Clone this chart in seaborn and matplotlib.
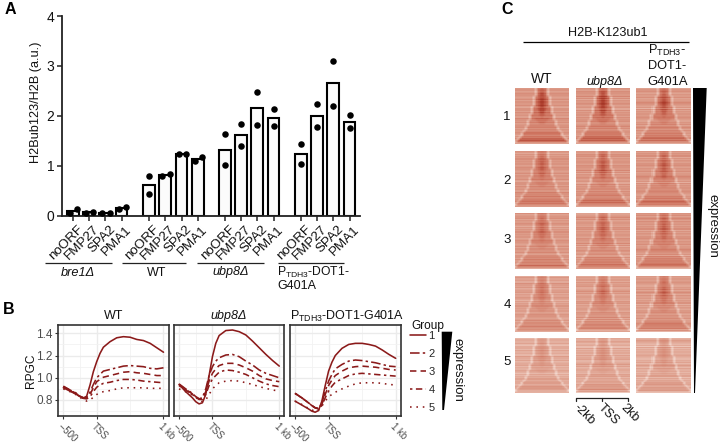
import numpy as np
import pandas as pd
import matplotlib
matplotlib.use("Agg")
import matplotlib.pyplot as plt
from matplotlib.lines import Line2D
from matplotlib.patches import Polygon
from matplotlib.transforms import ScaledTranslation
import seaborn as sns

sns.set_theme(style="white")
plt.rcParams["font.family"] = ["Liberation Sans", "DejaVu Sans"]
plt.rcParams["mathtext.fontset"] = "custom"
plt.rcParams["mathtext.rm"] = "Liberation Sans"
plt.rcParams["mathtext.default"] = "regular"

# ---------- panel A data ----------
strains = ["bre1", "WT", "ubp8", "PTDH3"]
genes = ["noORF", "FMP27", "SPA2", "PMA1"]
rep_low = [0.05, 0.06, 0.05, 0.13,
           0.44, 0.79, 1.23, 1.10,
           1.01, 1.40, 1.82, 1.79,
           1.03, 1.77, 2.20, 1.75]
rep_high = [0.13, 0.07, 0.06, 0.17,
            0.80, 0.83, 1.24, 1.17,
            1.63, 1.83, 2.48, 2.13,
            1.43, 2.23, 3.10, 2.01]

# ---------- panel B data ----------
tss_x = [-500, -400, -300, -250, -200, -150, -100, -50, 0, 50, 100, 200, 300, 400, 500, 600, 700, 800, 900, 1000]
wt_1 = [.91, .88, .85, .83, .815, .835, .935, 1.055, 1.145, 1.22, 1.275, 1.325, 1.36, 1.37, 1.365, 1.345, 1.335, 1.31, 1.27, 1.23]
wt_2 = [.925, .89, .86, .835, .82, .825, .87, .94, 1.0, 1.03, 1.06, 1.075, 1.09, 1.105, 1.11, 1.105, 1.10, 1.085, 1.08, 1.09]
wt_3 = [.92, .89, .855, .835, .82, .82, .85, .91, .965, .985, 1.005, 1.02, 1.035, 1.05, 1.055, 1.045, 1.04, 1.03, 1.02, 1.02]
wt_4 = [.915, .885, .85, .83, .815, .81, .83, .875, .915, .935, .95, .96, .975, .985, .985, .98, .97, .965, .96, .955]
wt_5 = [.90, .875, .845, .825, .80, .79, .80, .825, .85, .865, .875, .885, .90, .91, .91, .91, .91, .905, .905, .905]
ubp_1 = [.94, .875, .82, .785, .765, .775, .85, 1.02, 1.19, 1.31, 1.38, 1.425, 1.43, 1.415, 1.385, 1.33, 1.27, 1.21, 1.155, 1.105]
ubp_2 = [.945, .90, .86, .83, .81, .82, .90, 1.02, 1.10, 1.15, 1.18, 1.205, 1.21, 1.19, 1.15, 1.115, 1.07, 1.04, 1.02, 1.0]
ubp_3 = [.94, .895, .855, .83, .81, .815, .875, .97, 1.04, 1.08, 1.11, 1.13, 1.13, 1.115, 1.09, 1.06, 1.02, .99, .975, .965]
ubp_4 = [.93, .89, .85, .825, .805, .805, .85, .93, .99, 1.02, 1.05, 1.07, 1.065, 1.05, 1.03, 1.0, .97, .945, .93, .92]
ubp_5 = [.90, .875, .845, .825, .80, .785, .80, .85, .90, .93, .955, .97, .975, .97, .955, .94, .92, .905, .89, .88]
dot_1 = [.79, .755, .72, .70, .69, .705, .79, .93, 1.06, 1.14, 1.20, 1.265, 1.30, 1.31, 1.31, 1.30, 1.285, 1.25, 1.21, 1.175]
dot_2 = [.86, .82, .775, .75, .73, .72, .77, .88, .97, 1.03, 1.08, 1.12, 1.15, 1.16, 1.155, 1.145, 1.135, 1.12, 1.105, 1.10]
dot_3 = [.86, .82, .775, .75, .73, .725, .76, .85, .93, .98, 1.02, 1.06, 1.09, 1.10, 1.105, 1.10, 1.095, 1.085, 1.075, 1.07]
dot_4 = [.86, .82, .775, .75, .73, .72, .75, .82, .88, .925, .96, .99, 1.02, 1.035, 1.04, 1.035, 1.03, 1.025, 1.02, 1.015]
dot_5 = [.79, .76, .725, .71, .70, .71, .745, .79, .83, .85, .87, .90, .925, .945, .955, .955, .955, .95, .94, .935]
group_labels = ["1", "2", "3", "4", "5"]

# ---------- panel C data: coarse map ----------
map_rows = [
    "4444444444 1 66766 1 4444444444",
    "4444444444 1 67776 1 4444444444",
    "4444444444 1 67876 1 4444444444",
    "4444444444 1 67876 1 4444444444",
    "444444444 1 6788876 1 444444444",
    "444444444 1 6789876 1 444444444",
    "444444444 1 6789876 1 444444444",
    "444444444 1 6789876 1 444444444",
    "444444444 1 6789876 1 444444444",
    "44444444 1 667898766 1 44444444",
    "44444444 1 667888766 1 44444444",
    "44444444 1 666888666 1 44444444",
    "44444444 1 666787666 1 44444444",
    "4444444 1 66667776666 1 4444444",
    "4444444 1 66666766666 1 4444444",
    "4444444 1 55666666655 1 4444444",
    "444444 1 5555666665555 1 444444",
    "444444 1 5555566655555 1 444444",
    "444444 1 5555555555555 1 444444",
    "44444 1 555555555555555 1 44444",
    "44444 1 555555555555555 1 44444",
    "4444 1 55555555555555555 1 4444",
    "444 1 6666666666666666666 1 444",
    "444 1 6666666666666666666 1 444",
    "44 1 666666666666666666666 1 44",
    "5 1 77777777777777777777777 1 5",
    "1 7777777777777777777777777 1",
    "333333333333333333333333333",
]
streak_a = "45534655434635544632555364453375546345563544654253546645"
streak_b = "54365544736254465345226354553645563345746345544365635445"
streak_c = "35564354463445765435163545545654335463575364453546625354"
cell_level = [[.42, .42, .41], [.42, .42, .42], [.41, .41, .42], [.37, .38, .39], [.31, .32, .31]]
cell_peak = [[1.0, 1.0, .85], [.65, .7, .7], [.6, .65, .65], [.55, .6, .65], [.35, .35, .35]]
col_titles = ["WT", "ubp8Δ"]
row_titles = ["1", "2", "3", "4", "5"]

W, H = 720, 442
fig = plt.figure(figsize=(W / 100, H / 100), dpi=100, facecolor="white")


def axes_px(l, t, r, b):
    return fig.add_axes([l / W, 1 - b / H, (r - l) / W, (b - t) / H])


# ========== Panel A ==========
axA = axes_px(62, 16, 360, 215.5)
starts = [72.7, 149, 224.7, 300.7]
step = 16.3
centers = [s + j * step for s in starts for j in range(len(genes))]
dfA = pd.DataFrame({
    "pos": centers * 2,
    "val": rep_low + rep_high,
    "gene": (genes * len(strains)) * 2,
})
sns.barplot(data=dfA, x="pos", y="val", native_scale=True, errorbar=None, estimator="mean",
            width=0.72, color="#fbfbfb", saturation=1, edgecolor="black", linewidth=1.5, ax=axA, zorder=2)
close = np.abs(np.array(rep_high) - np.array(rep_low)) < 0.15
shift_low = np.where(close, -3.0, 0.0)
shift_high = np.where(close, 4.2, 0.0)
dfP = pd.DataFrame({
    "x": np.r_[np.array(centers) + shift_low, np.array(centers) + shift_high],
    "val": rep_low + rep_high,
})
sns.scatterplot(data=dfP, x="x", y="val", color="black", s=22, linewidth=0, ax=axA, zorder=3, clip_on=False, legend=False)
axA.set_xlim(62, 360)
axA.set_ylim(0, 4)
axA.set_xticks(centers)
axA.set_xticklabels(genes * len(strains), rotation=45, ha="right", va="top", rotation_mode="anchor", fontsize=9.6, color="#111111")
axA.set_yticks([0, 1, 2, 3, 4])
axA.set_yticklabels(["0", "1", "2", "3", "4"], fontsize=10, color="#111111")
axA.tick_params(axis="both", length=3.6, width=1.1, color="#222222", left=True, bottom=True, pad=2)
shift = ScaledTranslation(4 / 100, 0, fig.dpi_scale_trans)
for lab in axA.get_xticklabels():
    lab.set_transform(lab.get_transform() + shift)
axA.set_xlabel("")
axA.set_ylabel("H2Bub123/H2B (a.u.)", fontsize=9.2, color="#111111")
axA.yaxis.set_label_coords((42 - 62) / 298, 0.566)
sns.despine(ax=axA)
for s in ["left", "bottom"]:
    axA.spines[s].set_linewidth(1.3)
    axA.spines[s].set_color("#222222")

# ========== Panel B ==========
facets = [("WT", [wt_1, wt_2, wt_3, wt_4, wt_5], (58.3, 168.5)),
          ("ubp8", [ubp_1, ubp_2, ubp_3, ubp_4, ubp_5], (174, 284.3)),
          ("dot", [dot_1, dot_2, dot_3, dot_4, dot_5], (290, 400.7))]
line_col = "#8b1a1a"
dash_map = {"1": "", "2": (6, 2, 1.5, 2), "3": (4, 2.6), "4": (1.5, 2.2, 4, 2.2), "5": (1, 3)}
for k, (name, series, (l, r)) in enumerate(facets):
    ax = axes_px(l, 325, r, 416)
    dfB = pd.DataFrame({
        "x": tss_x * 5,
        "y": np.concatenate(series),
        "Group": np.repeat(group_labels, len(tss_x)),
    })
    sns.lineplot(data=dfB, x="x", y="y", style="Group", dashes=dash_map, color=line_col,
                 linewidth=1.15, errorbar=None, legend=False, ax=ax, zorder=3)
    ax.set_xlim(-575, 1075)
    ax.set_ylim(0.656, 1.475)
    ax.set_xticks([-500, 0, 1000])
    ax.set_xticks([-250, 500], minor=True)
    ax.set_yticks([0.8, 1.0, 1.2, 1.4])
    ax.set_yticks([0.7, 0.9, 1.1, 1.3], minor=True)
    ax.grid(True, which="major", color="#ebebeb", linewidth=1.0)
    ax.grid(True, which="minor", color="#f2f2f2", linewidth=0.6)
    ax.set_axisbelow(True)
    ax.set_xticklabels(["–500", "TSS", "1 kb"], rotation=-45, ha="left", va="top", rotation_mode="anchor",
                       fontsize=6.9, color="#4d4d4d")
    ax.tick_params(axis="x", which="major", length=2.5, width=0.8, color="#333333", bottom=True, pad=1)
    ax.tick_params(axis="x", which="minor", length=0)
    ax.tick_params(axis="y", which="minor", length=0)
    if k == 0:
        ax.set_yticklabels(["0.8", "1.0", "1.2", "1.4"], fontsize=8.5, color="#4d4d4d")
        ax.tick_params(axis="y", which="major", length=2.5, width=0.8, color="#333333", left=True, pad=1.5)
        ax.set_ylabel("RPGC", fontsize=8.6, color="#111111")
        ax.yaxis.set_label_coords(-0.19, 0.498)
    else:
        ax.tick_params(axis="y", which="major", length=0, labelleft=False)
        ax.set_ylabel("")
    ax.set_xlabel("")
    for s in ax.spines.values():
        s.set_visible(True)
        s.set_linewidth(1.2)
        s.set_color("#333333")
    if k == 2:
        handles = [Line2D([], [], color=line_col, linewidth=1.15,
                          linestyle="-" if g == "1" else (0, dash_map[g])) for g in group_labels]
        fig.legend(handles, group_labels, loc="upper left", bbox_to_anchor=(408 / W, 1 - 328.5 / H),
                   frameon=False, fontsize=8, handlelength=1.4, handletextpad=0.25,
                   labelspacing=0.72, borderpad=0.2, borderaxespad=0)

# ========== Panel C ==========
cell_cmap = sns.blend_palette(["#f6e2da", "#ebc2b5", "#dc9a87", "#cf7561", "#b0402f", "#8e2318"], as_cmap=True)
base = np.array([[int(c) for c in row.replace(" ", "")] for row in map_rows], dtype=float)
base = np.repeat(np.repeat(base, 2, axis=0), 2, axis=1)
padded = np.pad(base, 1, mode="edge")
smooth = sum(padded[1 + a:padded.shape[0] - 1 + a, 1 + b:padded.shape[1] - 1 + b]
             for a in (-1, 0, 1) for b in (-1, 0, 1)) / 9
streaks = [np.array([int(c) for c in s], dtype=float) for s in (streak_a, streak_b, streak_c)]
col_px = [(515, 569.3), (575.7, 630), (636.3, 691)]
row_px = [(88, 144.3), (151, 206.7), (213.3, 269.3), (276, 331.7), (338.3, 393.3)]
for i, (t, b) in enumerate(row_px):
    for j, (l, r) in enumerate(col_px):
        ax = axes_px(l, t, r, b)
        s = np.roll(streaks[j], i * 11)
        d = smooth - 4
        m = (cell_level[i][j] + cell_peak[i][j] * 0.085 * np.clip(d, 0, None)
             + 0.075 * np.clip(d, None, 0) + 0.035 * (s[:, None] - 4.5))
        sns.heatmap(m, ax=ax, cmap=cell_cmap, vmin=0, vmax=1, cbar=False, xticklabels=False, yticklabels=False)
        ax.set_xlabel("")
        ax.set_ylabel("")

# ========== Overlay annotations ==========
ov = fig.add_axes([0, 0, 1, 1], zorder=10)
ov.set_xlim(0, W)
ov.set_ylim(H, 0)
ov.axis("off")
ov.patch.set_alpha(0)
TXT = "#111111"

for x, y, s in [(10, 10, "A"), (9, 309, "B"), (507, 10, "C")]:
    ov.text(x, y, s, fontsize=11.5, fontweight="bold", ha="center", va="center", color="black")

# group rules of panel A
for x0, x1 in [(45, 111.7), (122.3, 185.7), (197, 263.7), (277.7, 344)]:
    ov.plot([x0, x1], [263.3, 263.3], color="#222222", lw=0.9, solid_capstyle="butt")
ov.text(78, 272.5, "bre1Δ", style="italic", fontsize=9.2, ha="center", va="center", color=TXT)
ov.text(157, 272.5, "WT", fontsize=9, ha="center", va="center", color=TXT)
ov.text(231, 272.5, "ubp8Δ", style="italic", fontsize=9.1, ha="center", va="center", color=TXT)
ov.text(277, 272.5, r"$\mathregular{P_{TDH3}}$-DOT1-", fontsize=8.7, ha="left", va="center", color=TXT)
ov.text(277, 286, "G401A", fontsize=9, ha="left", va="center", color=TXT)

# titles of panel B
ov.text(113.3, 316, "WT", fontsize=9, ha="center", va="center", color=TXT)
ov.text(229, 316, "ubp8Δ", fontsize=9, style="italic", ha="center", va="center", color=TXT)
ov.text(347, 316, r"$\mathregular{P_{TDH3}}$-DOT1-G401A", fontsize=9, ha="center", va="center", color=TXT)
ov.text(411, 325.7, "Group", fontsize=8.6, ha="left", va="center", color=TXT)
ov.add_patch(Polygon([(441.7, 331.7), (452.3, 331.7), (444, 410), (442.3, 410)], closed=True, fc="black", ec="none"))
ov.text(458, 370, "expression", rotation=270, fontsize=9.5, ha="center", va="center", color=TXT)

# headers of panel C
ov.text(608, 33, "H2B-K123ub1", fontsize=9.1, ha="center", va="center", color=TXT)
ov.plot([522.7, 689.3], [42.3, 42.3], color="black", lw=0.9, solid_capstyle="butt")
ov.text(542, 79.3, col_titles[0], fontsize=10, ha="center", va="center", color=TXT)
ov.text(605, 82, col_titles[1], fontsize=9.1, style="italic", ha="center", va="center", color=TXT)
ov.text(647.7, 50.7, r"$\mathregular{P_{TDH3}}$-", fontsize=9.2, ha="left", va="center", color=TXT)
ov.text(647.7, 66, "DOT1-", fontsize=9.2, ha="left", va="center", color=TXT)
ov.text(647.7, 82, "G401A", fontsize=9.4, ha="left", va="center", color=TXT)
for y, s in zip([117, 180.7, 240, 305, 361.7], row_titles):
    ov.text(507, y, s, fontsize=9.5, ha="center", va="center", color=TXT)
ov.add_patch(Polygon([(693, 88), (706.7, 88), (695, 393), (694, 393)], closed=True, fc="black", ec="none"))
ov.text(712.7, 226, "expression", rotation=270, fontsize=9.5, ha="center", va="center", color=TXT)

# bracket under panel C
ov.plot([576.3, 576.3, 628.3, 628.3], [400.5, 397.7, 397.7, 400.5], color="#222222", lw=0.9)
ov.plot([602.3, 602.3], [397.7, 400.5], color="#222222", lw=0.9)
for x, s in [(580, "-2kb"), (604, "TSS"), (627, "2kb")]:
    ov.text(x, 402, s, rotation=-45, rotation_mode="anchor", fontsize=9, ha="left", va="top", color=TXT)

fig.savefig("out.png", dpi=100, facecolor="white")
